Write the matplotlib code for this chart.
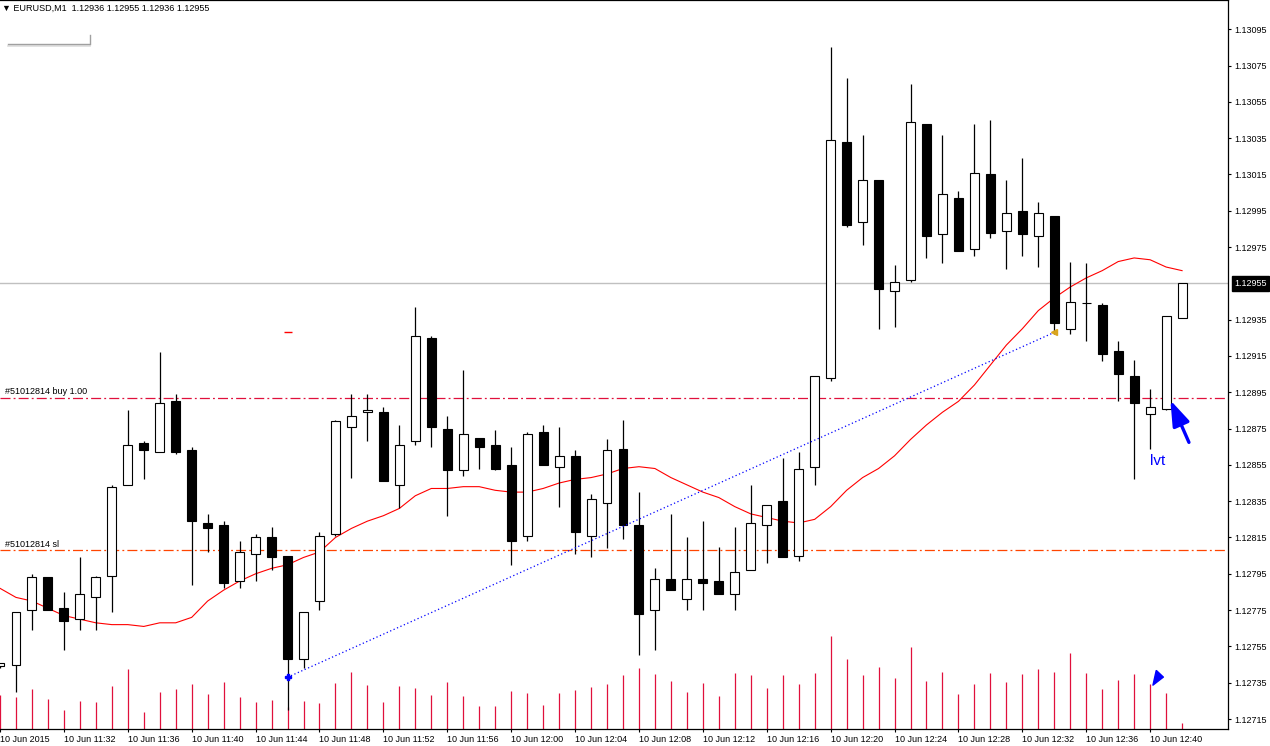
import numpy as np
import pandas as pd
import matplotlib
matplotlib.use("Agg")
import matplotlib.pyplot as plt
import matplotlib.transforms as mtransforms
from matplotlib.lines import Line2D

plt.rcParams['font.family'] = ['Liberation Sans', 'DejaVu Sans']

# EURUSD M1, 10 Jun 2015 11:28 .. 12:42 (first bar only partly on screen)
bar_times = pd.date_range('2015-06-10 11:28', periods=75, freq='min')

opens = [1.12744,
         1.12745, 1.12775, 1.12793, 1.12776, 1.12770, 1.12782, 1.12794, 1.12844, 1.12867, 1.12862,
         1.12890, 1.12863, 1.12823, 1.12822, 1.12791, 1.12806, 1.12815, 1.12805, 1.12748, 1.12780,
         1.12817, 1.12876, 1.12884, 1.12884, 1.12844, 1.12868, 1.12925, 1.12875, 1.12852, 1.12870,
         1.12866, 1.12855, 1.12816, 1.12873, 1.12854, 1.12860, 1.12816, 1.12834, 1.12864, 1.12822,
         1.12775, 1.12792, 1.12781, 1.12792, 1.12791, 1.12784, 1.12797, 1.12822, 1.12835, 1.12805,
         1.12854, 1.12903, 1.13033, 1.12989, 1.13012, 1.12951, 1.12957, 1.13043, 1.12982, 1.13002,
         1.12974, 1.13015, 1.12984, 1.12995, 1.12981, 1.12992, 1.12930, 1.12944, 1.12943, 1.12918,
         1.12904, 1.12883, 1.12886, 1.12936]
highs = [1.12746,
         1.12774, 1.12795, 1.12793, 1.12785, 1.12804, 1.12794, 1.12844, 1.12885, 1.12868, 1.12917,
         1.12894, 1.12865, 1.12828, 1.12824, 1.12813, 1.12817, 1.12821, 1.12805, 1.12774, 1.12818,
         1.12880, 1.12894, 1.12894, 1.12887, 1.12877, 1.12942, 1.12926, 1.12882, 1.12907, 1.12870,
         1.12874, 1.12865, 1.12873, 1.12877, 1.12876, 1.12863, 1.12839, 1.12869, 1.12880, 1.12840,
         1.12798, 1.12828, 1.12815, 1.12824, 1.12810, 1.12821, 1.12844, 1.12833, 1.12859, 1.12862,
         1.12904, 1.13085, 1.13068, 1.13037, 1.13012, 1.12965, 1.13065, 1.13043, 1.13037, 1.13006,
         1.13043, 1.13045, 1.13012, 1.13024, 1.13000, 1.12992, 1.12967, 1.12966, 1.12944, 1.12923,
         1.12913, 1.12897, 1.12937, 1.12955]
lows = [1.12743,
        1.12730, 1.12764, 1.12775, 1.12753, 1.12764, 1.12764, 1.12774, 1.12844, 1.12847, 1.12862,
        1.12861, 1.12789, 1.12807, 1.12787, 1.12787, 1.12791, 1.12797, 1.12720, 1.12743, 1.12775,
        1.12816, 1.12848, 1.12868, 1.12846, 1.12831, 1.12866, 1.12865, 1.12827, 1.12849, 1.12853,
        1.12852, 1.12800, 1.12813, 1.12855, 1.12832, 1.12806, 1.12804, 1.12809, 1.12814, 1.12750,
        1.12753, 1.12786, 1.12775, 1.12775, 1.12784, 1.12775, 1.12797, 1.12801, 1.12804, 1.12802,
        1.12844, 1.12901, 1.12986, 1.12976, 1.12930, 1.12931, 1.12956, 1.12969, 1.12966, 1.12973,
        1.12970, 1.12980, 1.12963, 1.12970, 1.12964, 1.12927, 1.12927, 1.12923, 1.12912, 1.12890,
        1.12847, 1.12864, 1.12885, 1.12936]
closes = [1.12746,
          1.12774, 1.12793, 1.12775, 1.12769, 1.12784, 1.12793, 1.12843, 1.12866, 1.12863, 1.12889,
          1.12862, 1.12824, 1.12820, 1.12790, 1.12807, 1.12815, 1.12804, 1.12748, 1.12774, 1.12816,
          1.12879, 1.12882, 1.12885, 1.12846, 1.12866, 1.12926, 1.12876, 1.12852, 1.12872, 1.12865,
          1.12853, 1.12813, 1.12872, 1.12855, 1.12860, 1.12818, 1.12836, 1.12863, 1.12822, 1.12773,
          1.12792, 1.12786, 1.12792, 1.12790, 1.12784, 1.12796, 1.12823, 1.12833, 1.12804, 1.12853,
          1.12904, 1.13034, 1.12987, 1.13012, 1.12952, 1.12956, 1.13044, 1.12981, 1.13004, 1.12973,
          1.13016, 1.12983, 1.12994, 1.12982, 1.12994, 1.12933, 1.12945, 1.12944, 1.12916, 1.12905,
          1.12889, 1.12887, 1.12937, 1.12955]
tick_volume = [100,
               93, 117, 87, 57, 81, 78, 126, 177, 51, 108,
               117, 132, 102, 138, 93, 78, 84, 64, 81, 75,
               135, 168, 129, 78, 126, 120, 99, 138, 96, 66,
               66, 111, 105, 69, 105, 114, 123, 132, 159, 180,
               162, 141, 108, 135, 96, 165, 159, 120, 159, 132,
               165, 273, 204, 159, 183, 150, 240, 141, 168, 102,
               132, 165, 138, 162, 177, 168, 222, 165, 117, 144,
               162, 132, 105, 18]
ma_line = [1.12787,
           1.12782, 1.12780, 1.12776, 1.12772, 1.12770, 1.12768, 1.12767, 1.12767, 1.12766, 1.12768,
           1.12768, 1.12771, 1.12780, 1.12786, 1.12791, 1.12795, 1.12798, 1.12800, 1.12804, 1.12807,
           1.12815, 1.12820, 1.12824, 1.12827, 1.12831, 1.12838, 1.12842, 1.12842, 1.12843, 1.12843,
           1.12841, 1.12840, 1.12840, 1.12842, 1.12845, 1.12847, 1.12848, 1.12850, 1.12853, 1.12854,
           1.12853, 1.12848, 1.12844, 1.12840, 1.12837, 1.12832, 1.12828, 1.12826, 1.12824, 1.12823,
           1.12825, 1.12832, 1.12841, 1.12848, 1.12853, 1.12860, 1.12869, 1.12877, 1.12884, 1.12890,
           1.12899, 1.12910, 1.12921, 1.12930, 1.12940, 1.12947, 1.12953, 1.12958, 1.12962, 1.12967,
           1.12969, 1.12968, 1.12964, 1.12962]

order_buy = 1.12892
order_sl = 1.12808
last_price = 1.12955
trend_start = (17, 1.12738)
trend_end = (65, 1.12928)
tp_mark = (17, 1.12928)
flag_mark = (71.45, 1.12738)
arrow_tail = (73.5, 1.12866)
arrow_head = (72.2, 1.12892)
note_pos = (71.45, 1.12857)

price_ticks = np.round(np.arange(1.12715, 1.13096, 0.0002), 5)

x = np.arange(len(opens)) - 1
o = np.array(opens)
h = np.array(highs)
l = np.array(lows)
c = np.array(closes)

fig = plt.figure(figsize=(12.7, 7.46), dpi=100)
rect = [0, 17 / 746, 1228 / 1270, 729 / 746]
ax = fig.add_axes(rect)
axv = ax.twinx()
ax.set_zorder(axv.get_zorder() + 1)
ax.patch.set_visible(False)

# volume in the bottom of the same window
axv.vlines(x, 0, tick_volume, color='#E0103C', lw=0.9)
axv.set_ylim(0, 2136)
axv.set_yticks([])
for s in axv.spines.values():
    s.set_visible(False)

ax.set_xlim(-0.875, 75.875)
ax.set_ylim(1.127095, 1.131111)

blend = mtransforms.blended_transform_factory(ax.transAxes, ax.transData)

# horizontal lines
ax.axhline(last_price, color='#C0C0C0', lw=1.0, zorder=1)
ax.axhline(order_buy, color='#E0103C', lw=0.9, dashes=(8, 2.5, 1.5, 2.5), zorder=1)
ax.axhline(order_sl, color='#FF4500', lw=0.9, dashes=(8, 2.5, 1.5, 2.5), zorder=1)
ax.annotate('#51012814 buy 1.00', xy=(0.004, order_buy), xycoords=blend,
            xytext=(0, 1.2), textcoords='offset points', va='bottom', fontsize=6.5)
ax.annotate('#51012814 sl', xy=(0.004, order_sl), xycoords=blend,
            xytext=(0, 1.2), textcoords='offset points', va='bottom', fontsize=6.5)

# moving average
ax.plot(x, ma_line, color='red', lw=0.8, zorder=2)

# candles
ax.vlines(x, l, h, color='black', lw=0.9, zorder=3)
up = c >= o
ax.bar(x, np.abs(c - o), bottom=np.minimum(o, c), width=0.56,
       color=np.where(up, 'white', 'black'), edgecolor='black', linewidth=0.8, zorder=4)

# trade history line and arrows
ax.plot([trend_start[0], trend_end[0]], [trend_start[1], trend_end[1]],
        color='blue', lw=0.9, dashes=(1, 2), zorder=5)
ax.plot(*trend_start, marker='P', color='blue', ms=5, zorder=6)
ax.plot(*trend_end, marker='<', color='#DAA520', ms=4, zorder=6)
ax.plot(*tp_mark, marker='_', color='red', ms=6, mew=1.0, zorder=6)
flag = [(-1.2, 6.9), (5.7, 0.4), (-4.4, -7.4), (-1.2, 6.9)]
ax.plot(*flag_mark, marker=flag, color='blue', ms=11, zorder=6)

ax.annotate('', xy=arrow_head, xytext=arrow_tail,
            arrowprops=dict(arrowstyle='-|>,head_length=1.1,head_width=0.38',
                            color='blue', lw=2.4, mutation_scale=14), zorder=7)
ax.text(*note_pos, 'lvt', color='blue', fontsize=11, ha='center', va='center')

# price scale
ax.yaxis.tick_right()
ticks_shown = [t for t in price_ticks if abs(t - last_price) > 1e-7]
ax.set_yticks(ticks_shown)
ax.set_yticklabels([f'{t:.5f}' for t in ticks_shown])
ax.tick_params(axis='y', length=2, width=0.8, pad=2.5, labelsize=6.5, direction='out')
ax.annotate(f'{last_price:.5f}', xy=(1, last_price), xycoords=blend,
            xytext=(4.5, 0), textcoords='offset points', va='center', ha='left',
            color='white', fontsize=6.5, annotation_clip=False,
            bbox=dict(boxstyle='square,pad=0.3', fc='black', ec='black'))

# time scale
tick_idx = [-1] + list(range(3, 74, 4))
tick_lbl = ['10 Jun 2015'] + [bar_times[i + 1].strftime('%d %b %H:%M') for i in tick_idx[1:]]
ax.set_xticks(tick_idx)
ax.set_xticklabels(tick_lbl)
ax.tick_params(axis='x', length=2.5, width=0.8, pad=1.5, labelsize=6.5, direction='out')
for t in ax.get_xticklabels():
    t.set_horizontalalignment('left')

for side in ['top', 'right', 'bottom']:
    ax.spines[side].set_linewidth(0.9)
ax.spines['left'].set_visible(False)

# window header
fig.text(2 / 1270, 1 - 8 / 746, '\u25BC EURUSD,M1  1.12936 1.12955 1.12936 1.12955',
         fontsize=6.5, va='center')
fig.add_artist(Line2D([8 / 1270, 90 / 1270], [1 - 45.5 / 746] * 2, color='#DDDDDD', lw=1.2))
fig.add_artist(Line2D([8 / 1270, 89 / 1270], [1 - 44 / 746] * 2, color='#A0A0A0', lw=1.0))
fig.add_artist(Line2D([89.5 / 1270] * 2, [1 - 35 / 746, 1 - 44 / 746], color='#A0A0A0', lw=1.0))

fig.savefig('out.png', dpi=100)
